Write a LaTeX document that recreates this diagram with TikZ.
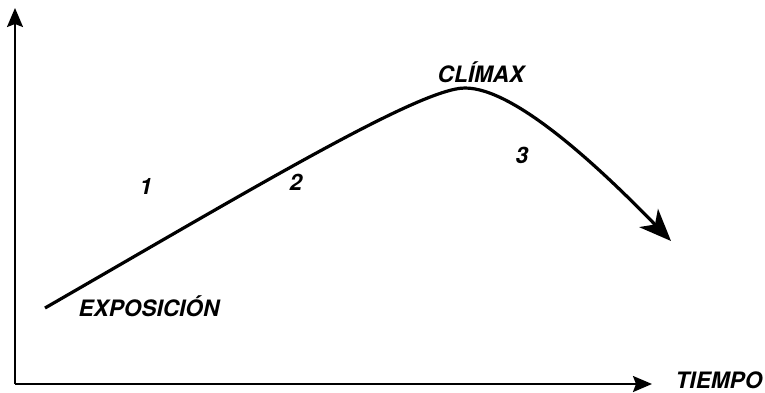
\documentclass[tikz,border=0pt]{standalone}
\usepackage{fontspec}
\setmainfont{TeX Gyre Heros}
\usetikzlibrary{arrows.meta}
\tikzset{
  lbl/.style={font=\fontsize{22.6}{26}\selectfont\bfseries\itshape, inner sep=0pt},
  axis/.style={line width=2pt, -{Stealth[length=19pt,width=16pt,inset=3pt]}},
  plot/.style={line width=3.2pt, -{Stealth[length=32pt,width=26pt,inset=9pt]}}
}
\begin{document}
\begin{tikzpicture}[x=1pt,y=-1pt]
\useasboundingbox (0,0) rectangle (765,392);
\coordinate (o) at (15,384);
\coordinate (ytop) at (15,8);
\coordinate (xend) at (652,384);
\draw[axis] (o) -- (ytop);
\draw[axis] (o) -- (xend);
\coordinate (s) at (45,308);
\coordinate (p) at (465,88);
\coordinate (e) at (671,241);
\draw[plot] (s) .. controls (250,190) and (420,88) .. (p) .. controls (515,88) and (600,168) .. (e);
\node[lbl] (tiempo) at (719,380) {TIEMPO};
\node[lbl] (expo) at (149,306) {EXPOSICIÓN};
\node[lbl] (climax) at (481,72) {CLÍMAX};
\node[lbl] (n1) at (146,186) {1};
\node[lbl] (n2) at (296,182) {2};
\node[lbl] (n3) at (522,155) {3};
\end{tikzpicture}
\end{document}
